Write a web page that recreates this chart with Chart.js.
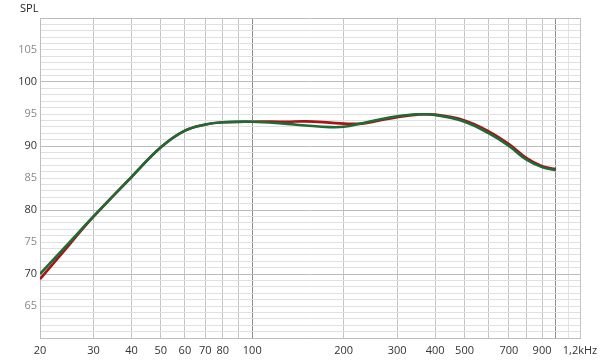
<!DOCTYPE html>
<html>
<head>
<meta charset="utf-8">
<script src="https://cdn.jsdelivr.net/npm/chart.js@4"></script>
<style>
  html, body { margin: 0; padding: 0; background: #fff; }
  #wrap { width: 600px; height: 362px; }
</style>
</head>
<body>
<div id="wrap"><canvas id="spl"></canvas></div>
<script>
// frequency response, two measurements
const freqs = [20, 25, 30, 40, 50, 60, 70, 80, 100, 130, 150, 180, 200, 230, 260, 300, 350, 400, 500, 600, 700, 800, 900, 1000];
const greenSpl = [70.0, 74.95, 79.0, 85.15, 89.8, 92.4, 93.35, 93.7, 93.8, 93.45, 93.2, 92.95, 93.0, 93.55, 94.1, 94.65, 94.95, 94.85, 93.8, 92.0, 90.0, 87.85, 86.7, 86.2];
const redSpl = [69.2, 74.6, 78.95, 85.15, 89.8, 92.4, 93.35, 93.7, 93.8, 93.8, 93.85, 93.65, 93.5, 93.5, 93.95, 94.5, 94.9, 94.9, 94.0, 92.3, 90.3, 88.1, 86.85, 86.4];

const xGrid = [20, 30, 40, 50, 60, 70, 80, 90, 100, 200, 300, 400, 500, 600, 700, 800, 900, 1000, 1100, 1200];
const xLabels = {20: '20', 30: '30', 40: '40', 50: '50', 60: '60', 70: '70', 80: '80', 100: '100',
    200: '200', 300: '300', 400: '400', 500: '500', 700: '700', 900: '900', 1200: '1,2kHz'};
const yLabels = [65, 70, 75, 80, 85, 90, 95, 100, 105];

function toPoints(ys) {
    let pts = []
    for (let i = 0; i < freqs.length; i++)
        pts.push({ x: freqs[i], y: ys[i] });
    return pts;
}

const fontFamily = "'Open Sans', 'Noto Sans', sans-serif";

const splTitle = {
    id: 'splTitle',
    afterDraw(chart) {
        const ctx = chart.ctx;
        ctx.save();
        ctx.font = '11px ' + fontFamily;
        ctx.fillStyle = '#222';
        ctx.textBaseline = 'middle';
        ctx.fillText('SPL', 20, 9);
        ctx.restore();
    }
};

const info = {
    datasets: [{
        label: 'green',
        data: toPoints(greenSpl),
        borderColor: '#1f6b35',
        borderWidth: 2.6,
        pointRadius: 0,
        tension: 0.4
    }, {
        label: 'red',
        data: toPoints(redSpl),
        borderColor: '#a51515',
        borderWidth: 2.6,
        pointRadius: 0,
        tension: 0.4
    }]
};

const config = {
    type: 'line',
    data: info,
    plugins: [splTitle],
    options: {
        responsive: true,
        maintainAspectRatio: false,
        animation: false,
        layout: { padding: { top: 18, right: 20, left: 0, bottom: 0 } },
        plugins: { legend: { display: false }, tooltip: { enabled: false } },
        scales: {
            x: {
                type: 'logarithmic',
                min: 20,
                max: 1200,
                afterBuildTicks: (scale) => {
                    scale.ticks = xGrid.map(v => ({ value: v }));
                },
                afterFit: (scale) => {
                    scale.height = 24;
                    scale.paddingLeft = 0;
                    scale.paddingRight = 0;
                },
                grid: {
                    drawTicks: false,
                    color: (c) => {
                        const v = c.tick ? c.tick.value : 0;
                        if (v === 100 || v === 1000) return '#8a8a8a';
                        if (v === 1100) return '#e2e2e2';
                        return '#c4c4c4';
                    }
                },
                border: { color: '#bdbdbd' },
                ticks: {
                    autoSkip: false,
                    maxRotation: 0,
                    padding: 6,
                    color: '#333',
                    font: { family: fontFamily, size: 11 },
                    callback: (v) => xLabels[v] || ''
                }
            },
            y: {
                min: 60,
                max: 110,
                afterFit: (scale) => {
                    scale.width = 40;
                    scale.paddingTop = 0;
                    scale.paddingBottom = 0;
                },
                grid: {
                    drawTicks: false,
                    color: (c) => {
                        const v = c.tick ? c.tick.value : 0;
                        if (v % 10 === 0) return '#bcbcbc';
                        return '#e0e0e0';
                    }
                },
                border: { color: '#bdbdbd' },
                ticks: {
                    stepSize: 1,
                    autoSkip: false,
                    padding: 3,
                    font: { family: fontFamily, size: 11 },
                    color: (c) => (c.tick && c.tick.value % 10 === 0) ? '#333' : '#888',
                    callback: (v) => yLabels.includes(v) ? String(v) : ''
                }
            }
        }
    }
};

const myChart = new Chart(document.getElementById('spl'), config);
</script>
</body>
</html>
